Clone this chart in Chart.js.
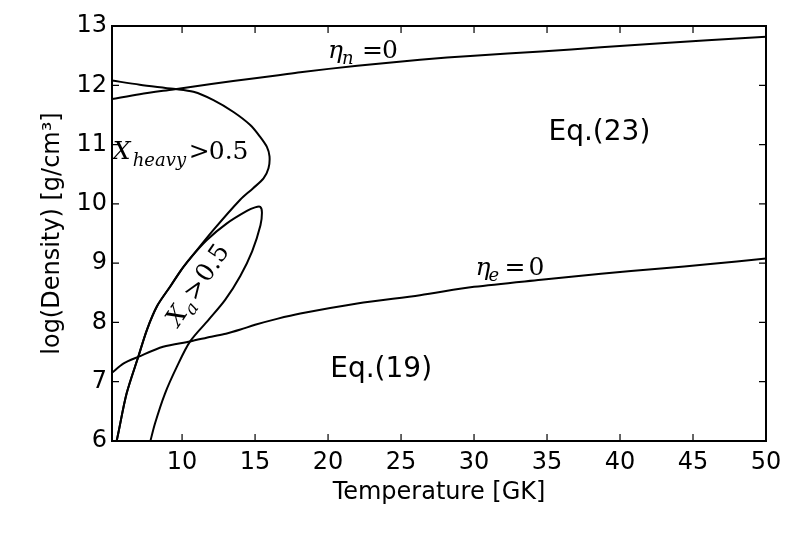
<!DOCTYPE html>
<html><head><meta charset="utf-8">
<script src="https://cdn.jsdelivr.net/npm/chart.js@4.4.0/dist/chart.umd.min.js"></script>
<style>html,body{margin:0;padding:0;background:#fff}#wrap{width:789px;height:535px}</style>
</head><body><div id="wrap"><canvas id="c"></canvas></div>
<script>
// ---- data ----
const etaNT   = [5.2, 7.1, 9.4, 12, 15, 16.6, 18.1, 22, 26.3, 30, 34.6, 38.7, 42.8, 46, 50];
const etaNRho = [11.77, 11.85, 11.93, 12.02, 12.12, 12.17, 12.22, 12.33, 12.43, 12.50, 12.57, 12.64, 12.71, 12.76, 12.82];

const etaET   = [5.2, 6.0, 7.0, 8.7, 10.55, 12.0, 13.0, 14.0, 15.0, 16.5, 18.1, 22, 26.3, 30, 34.6, 38.7, 42.8, 46, 50];
const etaERho = [7.15, 7.31, 7.42, 7.59, 7.68, 7.76, 7.81, 7.88, 7.96, 8.06, 8.15, 8.32, 8.46, 8.60, 8.72, 8.82, 8.91, 8.98, 9.08];

const heavyT   = [5.2, 7.1, 9.4, 10.78, 12.15, 13.52, 14.67, 15.35, 15.81, 15.99, 15.92, 15.58, 14.85, 13.98, 12.15, 10.5, 9.9, 9.2, 8.3, 7.6, 7.0, 6.2, 5.63, 5.52];
const heavyRho = [12.08, 12.01, 11.94, 11.89, 11.75, 11.55, 11.33, 11.13, 10.96, 10.80, 10.60, 10.43, 10.26, 10.07, 9.56, 9.06, 8.87, 8.61, 8.28, 7.88, 7.42, 6.80, 6.13, 6.0];

const alphaT   = [5.52, 5.63, 6.2, 7.0, 7.6, 8.3, 9.2, 9.9, 10.55, 11.70, 13.07, 14.44, 15.0, 15.35, 15.47, 15.37, 14.80, 13.98, 12.95, 11.8, 10.55, 9.64, 8.83, 8.15, 7.80];
const alphaRho = [6.0, 6.13, 6.80, 7.42, 7.88, 8.28, 8.61, 8.87, 9.08, 9.39, 9.67, 9.88, 9.94, 9.95, 9.86, 9.64, 9.20, 8.78, 8.38, 8.04, 7.68, 7.25, 6.80, 6.30, 5.97];

const xTicks = [10, 15, 20, 25, 30, 35, 40, 45, 50];
const yTicks = [6, 7, 8, 9, 10, 11, 12, 13];
const xTitle = 'Temperature [GK]';
const yTitle = 'log(Density) [g/cm³]';

// ---- annotation texts (anchor in data units, runs offset in px) ----
const SERIF = "'DejaVu Serif', 'Liberation Serif', serif";
const SANS = "'DejaVu Sans', sans-serif";
const annotations = [
  {x: 20.0, y: 12.455, angle: 0, runs: [
    {t: 'η', it: true, s: 25, dx: 0}, {t: 'n', it: true, s: 18, dx: 14, dy: 6},
    {t: '=', s: 25, dx: 34}, {t: '0', s: 25, dx: 54}]},
  {x: 30.1, y: 8.80, angle: 0, runs: [
    {t: 'η', it: true, s: 25, dx: 0}, {t: 'e', it: true, s: 18, dx: 13, dy: 6},
    {t: '=', s: 25, dx: 29}, {t: '0', s: 25, dx: 53}]},
  {x: 5.25, y: 10.75, angle: 0, runs: [
    {t: 'X', it: true, s: 25, dx: 0}, {t: 'heavy', it: true, s: 18, dx: 20, dy: 7},
    {t: '>', s: 25, dx: 76}, {t: '0.5', s: 25, dx: 96}]},
  {x: 9.73, y: 7.91, angle: -56, runs: [
    {t: 'X', it: true, s: 25, dx: 0}, {t: 'a', it: true, s: 18, dx: 18, dy: 6},
    {t: '>', s: 25, dx: 31}, {t: '0.5', s: 25, dx: 53}]},
  {x: 35.1, y: 11.08, angle: 0, runs: [{t: 'Eq.(23)', sans: true, s: 28, dx: 0}]},
  {x: 20.15, y: 7.08, angle: 0, runs: [{t: 'Eq.(19)', sans: true, s: 28, dx: 0}]}
];

function pts(xs, ys) { return xs.map((v, i) => ({x: v, y: ys[i]})); }
function lineSet(xs, ys) {
  return {data: pts(xs, ys), showLine: true, borderColor: '#000', borderWidth: 2,
          pointRadius: 0, pointHoverRadius: 0, tension: 0.3, fill: false};
}

const framePlugin = {
  id: 'frame',
  afterDatasetsDraw(chart) {
    const {ctx, chartArea: a, scales: {x, y}} = chart;
    ctx.save();
    ctx.strokeStyle = '#000';
    ctx.lineWidth = 1.2;
    ctx.beginPath();
    for (const v of xTicks) {
      const p = x.getPixelForValue(v);
      ctx.moveTo(p, a.bottom); ctx.lineTo(p, a.bottom - 7);
      ctx.moveTo(p, a.top); ctx.lineTo(p, a.top + 7);
    }
    for (const v of yTicks) {
      const p = y.getPixelForValue(v);
      ctx.moveTo(a.left, p); ctx.lineTo(a.left + 7, p);
      ctx.moveTo(a.right, p); ctx.lineTo(a.right - 7, p);
    }
    ctx.stroke();
    ctx.lineWidth = 2;
    ctx.strokeRect(a.left, a.top, a.right - a.left, a.bottom - a.top);

    ctx.fillStyle = '#000';
    ctx.textBaseline = 'alphabetic';
    ctx.textAlign = 'left';
    for (const an of annotations) {
      ctx.save();
      ctx.translate(x.getPixelForValue(an.x), y.getPixelForValue(an.y));
      ctx.rotate(an.angle * Math.PI / 180);
      for (const r of an.runs) {
        const fam = r.sans ? SANS : SERIF;
        ctx.font = (r.it ? 'italic ' : '') + r.s + 'px ' + fam;
        ctx.fillText(r.t, r.dx, r.dy || 0);
      }
      ctx.restore();
    }
    ctx.restore();
  }
};

Chart.defaults.font.family = SANS;
Chart.defaults.color = '#000';

new Chart(document.getElementById('c'), {
  type: 'scatter',
  data: {datasets: [
    lineSet(etaNT, etaNRho),
    lineSet(etaET, etaERho),
    lineSet(heavyT, heavyRho),
    lineSet(alphaT, alphaRho)
  ]},
  options: {
    responsive: true, maintainAspectRatio: false, animation: false, devicePixelRatio: 1,
    layout: {padding: {left: 0, right: 23, top: 26, bottom: 28}},
    plugins: {legend: {display: false}, tooltip: {enabled: false}},
    scales: {
      x: {
        type: 'linear', min: 5.2, max: 50,
        afterBuildTicks: s => { s.ticks = xTicks.map(v => ({value: v})); },
        afterFit: s => { s.height = 66; },
        grid: {display: false, drawTicks: false}, border: {display: false},
        ticks: {font: {size: 24}, padding: 7, maxRotation: 0, autoSkip: false},
        title: {display: true, text: xTitle, font: {size: 24}, padding: {top: 0, bottom: 0}}
      },
      y: {
        type: 'linear', min: 6, max: 13,
        afterBuildTicks: s => { s.ticks = yTicks.map(v => ({value: v})); },
        afterFit: s => { s.width = 112; },
        grid: {display: false, drawTicks: false}, border: {display: false},
        ticks: {font: {size: 24}, padding: 5, autoSkip: false},
        title: {display: true, text: yTitle, font: {size: 24}, padding: {top: 38, bottom: 0}}
      }
    }
  },
  plugins: [framePlugin]
});
</script>
</body></html>
